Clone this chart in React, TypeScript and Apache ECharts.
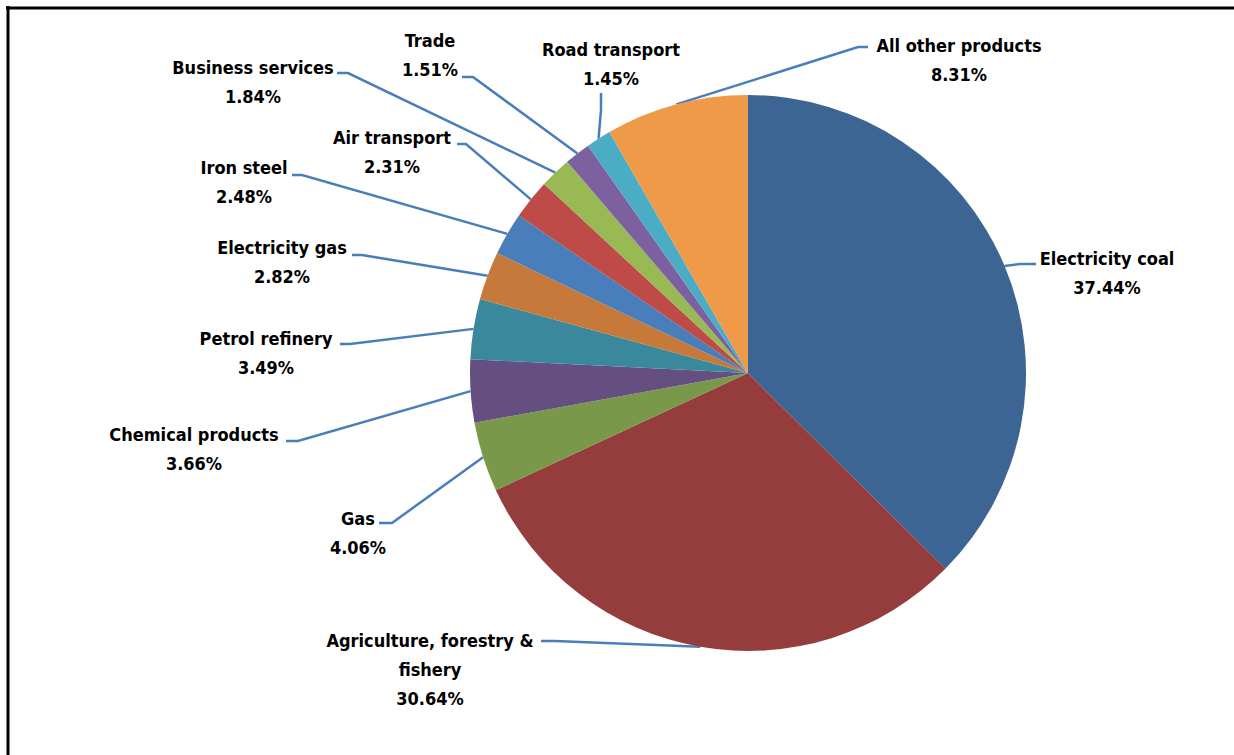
import React, { useEffect, useRef } from "react";
import * as echarts from "echarts";

const categories = [
  "Electricity coal",
  "Agriculture, forestry & fishery",
  "Gas",
  "Chemical products",
  "Petrol refinery",
  "Electricity gas",
  "Iron steel",
  "Air transport",
  "Business services",
  "Trade",
  "Road transport",
  "All other products",
];

const shares = [37.44, 30.64, 4.06, 3.66, 3.49, 2.82, 2.48, 2.31, 1.84, 1.51, 1.45, 8.31];

const sliceColors = [
  "#3C6594",
  "#953C3C",
  "#7A9849",
  "#644F80",
  "#3A889C",
  "#C6793A",
  "#4A7EBB",
  "#BE4B48",
  "#98B954",
  "#7D60A0",
  "#4BACC6",
  "#EE9A48",
];

// label layout: text block centre, bend point and end point of the leader line
const labelLayouts = [
  { x: 1107, y: 273, bend: [1020, 264], end: [1036, 264] },
  { x: 430, y: 669, bend: [555, 641], end: [541, 641] },
  { x: 358, y: 533, bend: [392, 523], end: [379, 523] },
  { x: 194, y: 449, bend: [298, 441], end: [286, 441] },
  { x: 266, y: 353, bend: [350, 344], end: [340, 344] },
  { x: 282, y: 262, bend: [362, 255], end: [352, 255] },
  { x: 244, y: 182, bend: [302, 175], end: [292, 175] },
  { x: 392, y: 152, bend: [466, 144], end: [457, 144] },
  { x: 253, y: 82, bend: [348, 73], end: [337, 73] },
  { x: 430, y: 55, bend: [473, 77], end: [462, 77] },
  { x: 611, y: 64, bend: [601, 110], end: [601, 93] },
  { x: 959, y: 60, bend: [858, 47], end: [868, 47] },
];

export default function App() {
  const ref = useRef<HTMLDivElement>(null);

  useEffect(() => {
    if (!ref.current) return;
    const chart = echarts.init(ref.current, null, { renderer: "svg" });
    const data = categories.map((name, i) => ({
      name,
      value: shares[i],
      itemStyle: { color: sliceColors[i] },
    }));
    chart.setOption({
      animation: false,
      backgroundColor: "#ffffff",
      graphic: [
        {
          type: "line",
          shape: { x1: 6, y1: 8, x2: 1234, y2: 8 },
          style: { stroke: "#000", lineWidth: 3 },
        },
        {
          type: "line",
          shape: { x1: 8, y1: 6, x2: 8, y2: 755 },
          style: { stroke: "#000", lineWidth: 3 },
        },
      ],
      series: [
        {
          type: "pie",
          center: [748, 373],
          radius: 278,
          startAngle: 90,
          clockwise: true,
          avoidLabelOverlap: false,
          itemStyle: { borderWidth: 0 },
          emphasis: { disabled: true },
          label: {
            show: true,
            position: "outside",
            color: "#000",
            fontFamily: "'Liberation Sans Narrow', 'DejaVu Sans Condensed', Lato, sans-serif",
            fontWeight: "bold",
            fontSize: 18,
            lineHeight: 29,
            align: "center",
            formatter: (p: any) =>
              p.name.replace("& ", "&\n") + "\n" + Number(p.value).toFixed(2) + "%",
          },
          labelLine: {
            show: true,
            length: 10,
            length2: 10,
            smooth: false,
            lineStyle: { color: "#4A7EBB", width: 2.5 },
          },
          labelLayout: (params: any) => {
            const l = labelLayouts[params.dataIndex];
            const pts = params.labelLinePoints;
            const start = pts && pts[0] ? pts[0] : l.bend;
            return {
              x: l.x,
              y: l.y,
              align: "center",
              verticalAlign: "middle",
              labelLinePoints: [start, l.bend, l.end],
            };
          },
          data,
        },
      ],
    });
    return () => chart.dispose();
  }, []);

  return (
    <div
      ref={ref}
      style={{ position: "fixed", left: 0, top: 0, width: 1234, height: 755 }}
    />
  );
}
